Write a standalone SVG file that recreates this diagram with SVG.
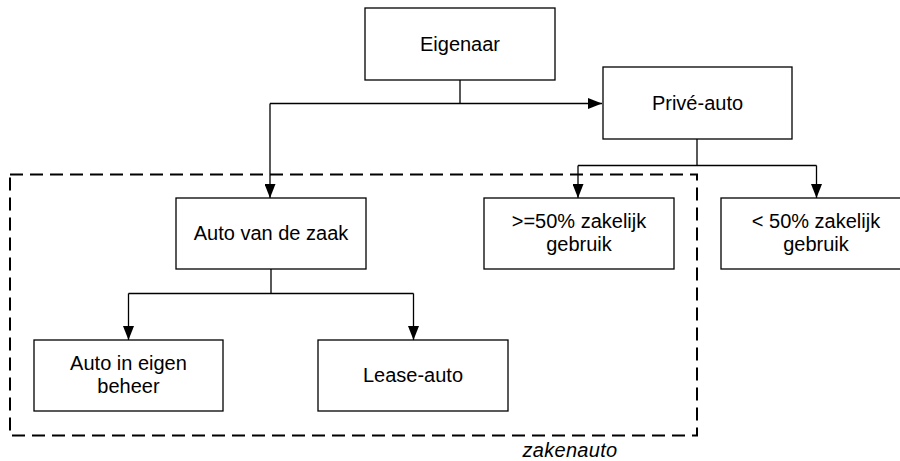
<svg xmlns="http://www.w3.org/2000/svg" width="900" height="461" viewBox="0 0 900 461">
<style>
.box{fill:#fff;stroke:#000;stroke-width:1.3}
.t{font-family:"Liberation Sans",Arial,sans-serif;font-size:20px;fill:#000;text-anchor:middle}
.c{fill:none;stroke:#000;stroke-width:1.3}
</style>
<defs>
<marker id="ah" viewBox="0 0 14 11" refX="14" refY="5.5" markerWidth="14" markerHeight="11" markerUnits="userSpaceOnUse" orient="auto">
<path d="M0,0 L14,5.5 L0,11 Z" fill="#000"/>
</marker>
</defs>
<rect id="zakenauto-group" x="10" y="174.5" width="687" height="261" fill="none" stroke="#000" stroke-width="2" stroke-dasharray="13,7"/>
<g id="connectors">
<path class="c" d="M460,80 V103.5 M270,103.5 H602" marker-end="url(#ah)"/>
<path class="c" d="M270,103.5 V198" marker-end="url(#ah)"/>
<path class="c" d="M697,139 V165.5 M578,165.5 H816.5"/>
<path class="c" d="M578,165.5 V198" marker-end="url(#ah)"/>
<path class="c" d="M816.5,165.5 V198" marker-end="url(#ah)"/>
<path class="c" d="M271,269 V293.5 M128.5,293.5 H413.5"/>
<path class="c" d="M128.5,293.5 V340" marker-end="url(#ah)"/>
<path class="c" d="M413.5,293.5 V340" marker-end="url(#ah)"/>
</g>
<g id="eigenaar"><rect class="box" x="365" y="8" width="190" height="72"/><text class="t" x="460" y="51">Eigenaar</text></g>
<g id="prive-auto"><rect class="box" x="603" y="67" width="189" height="72"/><text class="t" x="697.5" y="110">Privé-auto</text></g>
<g id="auto-van-de-zaak"><rect class="box" x="176" y="198" width="190" height="71"/><text class="t" x="271" y="240">Auto van de zaak</text></g>
<g id="ge50"><rect class="box" x="484" y="198" width="190" height="71"/><text class="t" x="579" y="228">&gt;=50% zakelijk</text><text class="t" x="579" y="251">gebruik</text></g>
<g id="lt50"><rect class="box" x="721" y="198" width="190" height="71"/><text class="t" x="816" y="228">&lt; 50% zakelijk</text><text class="t" x="816" y="251">gebruik</text></g>
<g id="auto-in-eigen-beheer"><rect class="box" x="34" y="340" width="189" height="71"/><text class="t" x="128.5" y="370">Auto in eigen</text><text class="t" x="128.5" y="393">beheer</text></g>
<g id="lease-auto"><rect class="box" x="318" y="340" width="190" height="71"/><text class="t" x="413" y="382">Lease-auto</text></g>
<text class="t" x="570" y="457" font-style="italic" letter-spacing="0.3">zakenauto</text>
</svg>
